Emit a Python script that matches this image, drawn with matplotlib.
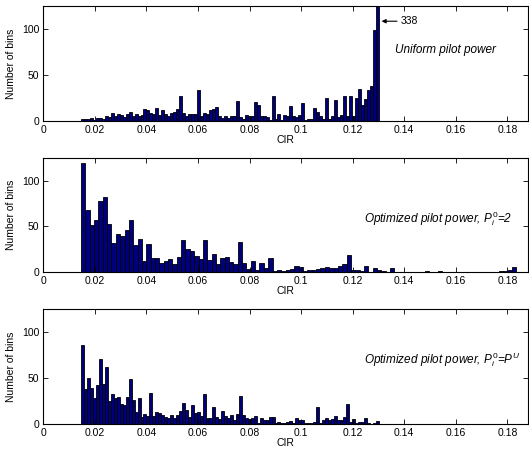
import numpy as np
import matplotlib.pyplot as plt

plt.rcParams['font.family'] = ['Liberation Sans', 'DejaVu Sans']
plt.rcParams['mathtext.fontset'] = 'custom'
plt.rcParams['mathtext.rm'] = 'Liberation Sans'
plt.rcParams['mathtext.it'] = 'Liberation Sans:italic'

# Histogram counts, 100 bins each
uniform_counts = [
    2, 2, 2, 3, 1, 3, 3, 2, 5, 4,
    9, 6, 8, 7, 4, 8, 10, 5, 8, 6,
    7, 13, 12, 9, 8, 14, 7, 12, 8, 5,
    9, 10, 13, 27, 9, 6, 8, 8, 8, 34,
    5, 9, 8, 12, 13, 15, 5, 3, 6, 3,
    6, 6, 22, 4, 2, 7, 6, 5, 21, 17,
    6, 6, 4, 1, 27, 2, 8, 1, 7, 5,
    16, 5, 4, 7, 20, 1, 2, 2, 14, 10,
    5, 2, 25, 2, 5, 23, 4, 7, 27, 5,
    27, 5, 25, 35, 17, 24, 34, 38, 99, 338]
opt2_counts = [
    120, 68, 51, 57, 78, 82, 53, 32, 42, 40,
    46, 57, 30, 36, 12, 31, 15, 15, 10, 12,
    14, 9, 16, 35, 25, 23, 18, 14, 35, 13,
    20, 9, 15, 16, 11, 9, 33, 10, 3, 12,
    2, 10, 4, 15, 1, 2, 1, 2, 3, 7,
    5, 1, 2, 2, 3, 4, 6, 4, 4, 7,
    9, 19, 2, 2, 1, 7, 0, 4, 2, 1,
    0, 4, 0, 0, 0, 0, 0, 0, 0, 1,
    0, 0, 1, 0, 0, 0, 0, 0, 0, 0,
    0, 0, 0, 0, 0, 0, 1, 1, 2, 6]
optU_counts = [
    86, 38, 50, 39, 28, 42, 71, 44, 62, 25,
    33, 28, 29, 22, 21, 29, 49, 26, 13, 28,
    8, 11, 9, 34, 9, 13, 12, 10, 8, 6,
    10, 7, 10, 14, 23, 15, 8, 21, 12, 13,
    9, 33, 7, 7, 18, 8, 5, 14, 9, 7,
    10, 4, 11, 30, 10, 6, 5, 6, 9, 1,
    6, 4, 4, 8, 8, 1, 2, 1, 1, 2,
    3, 1, 6, 4, 4, 1, 1, 1, 2, 19,
    1, 4, 7, 4, 5, 9, 4, 4, 8, 22,
    2, 5, 1, 2, 2, 7, 1, 0, 1, 3]

# CIR range covered by each histogram (min, max)
uniform_range = (0.0146, 0.1301)
opt2_range = (0.0146, 0.1835)
optU_range = (0.0146, 0.1301)

xticks = [0, 0.02, 0.04, 0.06, 0.08, 0.1, 0.12, 0.14, 0.16, 0.18]
yticks = [0, 50, 100]

fig = plt.figure(figsize=(5.29, 4.55), dpi=100)

panels = [
    (uniform_counts, uniform_range, [0.0819, 0.734, 0.9162, 0.2527]),
    (opt2_counts, opt2_range, [0.0819, 0.4022, 0.9162, 0.2505]),
    (optU_counts, optU_range, [0.0819, 0.0681, 0.9162, 0.2527]),
]

axes = []
for counts, (lo, hi), pos in panels:
    ax = fig.add_axes(pos)
    n = len(counts)
    w = (hi - lo) / n
    edges = lo + w * np.arange(n)
    ax.bar(edges, counts, width=w, align='edge', color='#00007f',
           edgecolor='black', linewidth=0.6)
    ax.set_xlim(0, 0.188)
    ax.set_ylim(0, 125)
    ax.set_xticks(xticks)
    ax.set_xticklabels(['%g' % t for t in xticks])
    ax.set_yticks(yticks)
    ax.tick_params(direction='in', top=True, right=True, length=3.5,
                   labelsize=7.5, width=0.6, pad=3)
    for s in ax.spines.values():
        s.set_linewidth(0.8)
    ax.set_xlabel('CIR', fontsize=7.5, labelpad=0)
    ax.set_ylabel('Number of bins', fontsize=7.5, labelpad=4)
    axes.append(ax)

axes[0].annotate('338', xy=(0.1312, 108.5), xytext=(0.1388, 108.5),
                 va='center', fontsize=7.5,
                 arrowprops=dict(arrowstyle='-|>', color='k', lw=0.8,
                                 mutation_scale=6, shrinkA=1, shrinkB=0))
axes[0].text(0.1366, 77, 'Uniform pilot power', style='italic',
             fontsize=8.5, va='center', ha='left')
axes[1].text(0.182, 59, r'Optimized pilot power, $P_i^0$=2', style='italic',
             fontsize=8.5, va='center', ha='right')
axes[2].text(0.185, 70, r'Optimized pilot power, $P_i^0$=$P^U$', style='italic',
             fontsize=8.5, va='center', ha='right')

fig.savefig('out.png', dpi=100)
